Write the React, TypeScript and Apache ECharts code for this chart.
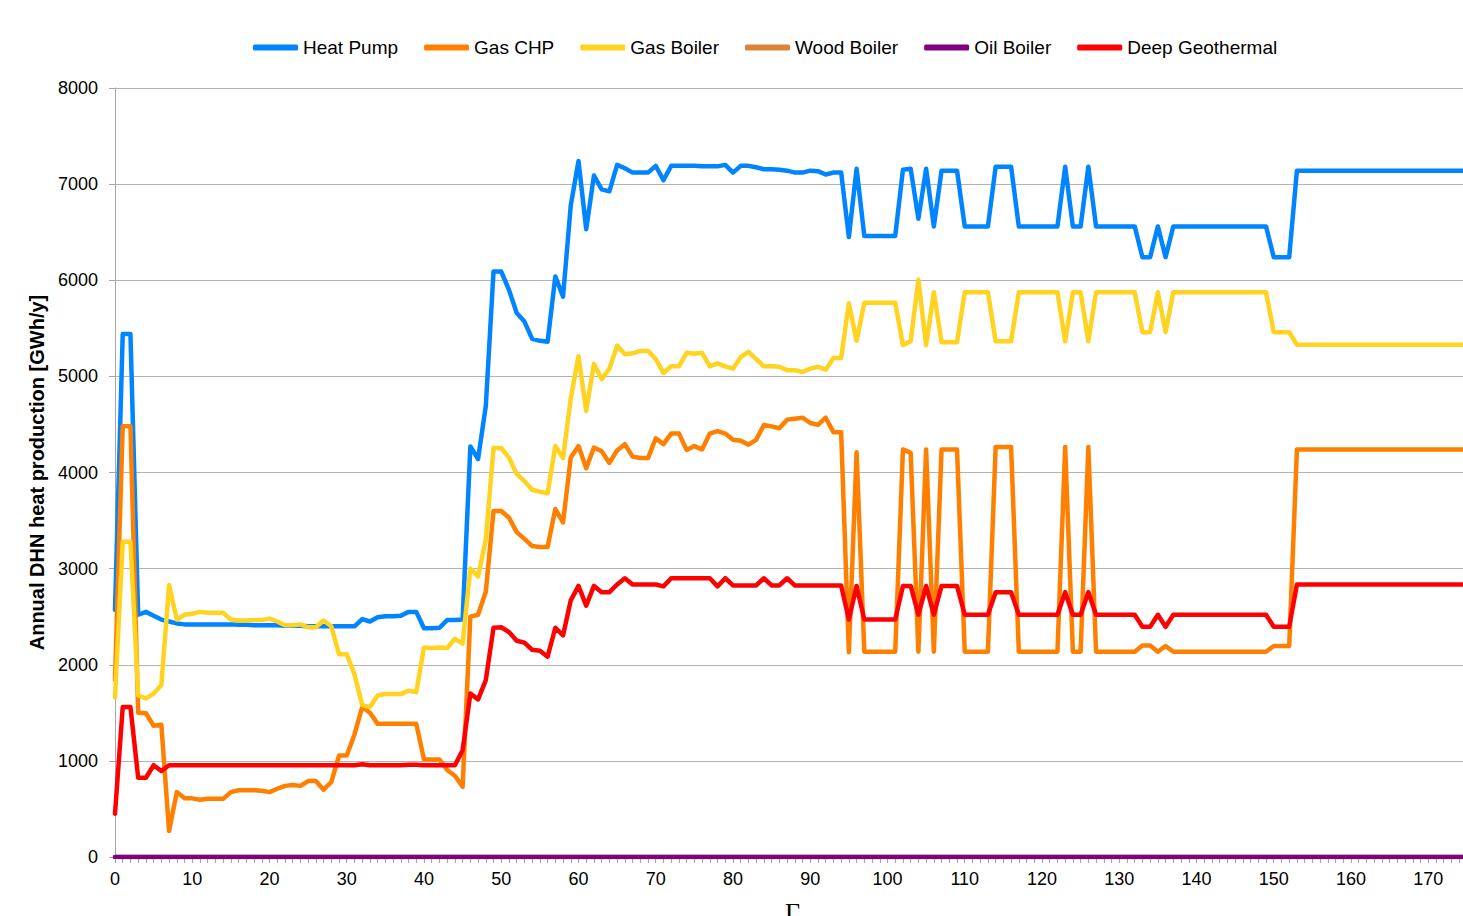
import React, { useEffect, useRef } from "react";
import * as echarts from "echarts";

const seriesNames = ["Heat Pump", "Gas CHP", "Gas Boiler", "Wood Boiler", "Oil Boiler", "Deep Geothermal"];
const seriesColors = ["#0084ff", "#ff8000", "#ffd320", "#d9843a", "#800080", "#ff0000"];

const xTickLabels = [0, 10, 20, 30, 40, 50, 60, 70, 80, 90, 100, 110, 120, 130, 140, 150, 160, 170];
const yTickLabels = [0, 1000, 2000, 3000, 4000, 5000, 6000, 7000, 8000];

const heatPump = [
  2570, 5440, 5440, 2520, 2550, 2510, 2470, 2450, 2430, 2420,
  2420, 2420, 2420, 2420, 2420, 2420, 2415, 2415, 2410, 2410,
  2410, 2410, 2405, 2405, 2405, 2400, 2400, 2400, 2400, 2400,
  2400, 2400, 2475, 2450, 2495, 2505, 2505, 2510, 2550, 2550,
  2380, 2380, 2385, 2465, 2465, 2470, 4270, 4140, 4690, 6090,
  6090, 5900, 5660, 5570, 5390, 5370, 5360, 6040, 5830, 6780,
  7240, 6530, 7090, 6945, 6925, 7200, 7165, 7120, 7120, 7120,
  7190, 7040, 7190, 7190, 7190, 7190, 7185, 7185, 7185, 7200,
  7120, 7190, 7190, 7175, 7155, 7155, 7150, 7140, 7120, 7120,
  7140, 7135, 7100, 7120, 7120, 6450, 7160, 6460, 6460, 6460,
  6460, 6460, 7150, 7160, 6640, 7160, 6560, 7140, 7140, 7140,
  6560, 6560, 6560, 6560, 7180, 7180, 7180, 6560, 6560, 6560,
  6560, 6560, 6560, 7180, 6560, 6560, 7180, 6560, 6560, 6560,
  6560, 6560, 6560, 6240, 6240, 6560, 6240, 6560, 6560, 6560,
  6560, 6560, 6560, 6560, 6560, 6560, 6560, 6560, 6560, 6560,
  6240, 6240, 6240, 7140, 7140, 7140, 7140, 7140, 7140, 7140,
  7140, 7140, 7140, 7140, 7140, 7140, 7140, 7140, 7140, 7140,
  7140, 7140, 7140, 7140, 7140, 7140,
];

const gasChp = [
  1840, 4480, 4480, 1500, 1495, 1365, 1375, 270, 675, 610,
  610, 595, 605, 605, 605, 675, 695, 695, 695, 690,
  675, 710, 740, 750, 740, 790, 790, 700, 780, 1055,
  1055, 1275, 1560, 1500, 1385, 1385, 1385, 1385, 1385, 1385,
  1015, 1015, 1015, 905, 845, 730, 2500, 2520, 2760, 3600,
  3600, 3530, 3380, 3310, 3235, 3225, 3225, 3620, 3480, 4155,
  4275, 4045, 4260, 4220, 4100, 4230, 4295, 4165, 4150, 4150,
  4355, 4295, 4405, 4405, 4235, 4275, 4240, 4405, 4430, 4405,
  4340, 4330, 4290, 4340, 4495, 4480, 4460, 4550, 4560, 4570,
  4515, 4495, 4570, 4420, 4420, 2130, 4210, 2135, 2135, 2135,
  2135, 2135, 4240, 4205, 2135, 4240, 2135, 4240, 4240, 4240,
  2135, 2135, 2135, 2135, 4265, 4265, 4265, 2135, 2135, 2135,
  2135, 2135, 2135, 4265, 2135, 2135, 4265, 2135, 2135, 2135,
  2135, 2135, 2135, 2200, 2200, 2135, 2195, 2135, 2135, 2135,
  2135, 2135, 2135, 2135, 2135, 2135, 2135, 2135, 2135, 2135,
  2195, 2195, 2195, 4240, 4240, 4240, 4240, 4240, 4240, 4240,
  4240, 4240, 4240, 4240, 4240, 4240, 4240, 4240, 4240, 4240,
  4240, 4240, 4240, 4240, 4240, 4240,
];

const gasBoiler = [
  1660, 3280, 3280, 1680, 1650, 1700, 1790, 2830, 2470, 2520,
  2530, 2550, 2540, 2540, 2540, 2470, 2460, 2460, 2465, 2465,
  2480, 2450, 2410, 2410, 2420, 2390, 2390, 2460, 2400, 2110,
  2110, 1900, 1580, 1560, 1680, 1695, 1695, 1695, 1730, 1715,
  2180, 2175, 2180, 2175, 2270, 2220, 3000, 2920, 3300, 4255,
  4255, 4155, 3985, 3910, 3820, 3800, 3785, 4275, 4150, 4770,
  5210, 4640, 5130, 4970, 5080, 5320, 5230, 5240, 5265, 5265,
  5180, 5035, 5105, 5105, 5245, 5235, 5245, 5105, 5135, 5105,
  5080, 5200, 5255, 5180, 5105, 5105, 5100, 5065, 5065, 5045,
  5080, 5100, 5070, 5190, 5190, 5760, 5370, 5765, 5765, 5765,
  5765, 5765, 5325, 5365, 6005, 5325, 5875, 5355, 5355, 5355,
  5875, 5875, 5875, 5875, 5365, 5365, 5365, 5875, 5875, 5875,
  5875, 5875, 5875, 5365, 5875, 5875, 5365, 5875, 5875, 5875,
  5875, 5875, 5875, 5460, 5460, 5875, 5460, 5875, 5875, 5875,
  5875, 5875, 5875, 5875, 5875, 5875, 5875, 5875, 5875, 5875,
  5460, 5460, 5460, 5330, 5330, 5330, 5330, 5330, 5330, 5330,
  5330, 5330, 5330, 5330, 5330, 5330, 5330, 5330, 5330, 5330,
  5330, 5330, 5330, 5330, 5330, 5330,
];

const woodBoiler = [
  0, 0, 0, 0, 0, 0, 0, 0, 0, 0, 0, 0, 0, 0, 0, 0, 0, 0, 0, 0,
  0, 0, 0, 0, 0, 0, 0, 0, 0, 0, 0, 0, 0, 0, 0, 0, 0, 0, 0, 0,
  0, 0, 0, 0, 0, 0, 0, 0, 0, 0, 0, 0, 0, 0, 0, 0, 0, 0, 0, 0,
  0, 0, 0, 0, 0, 0, 0, 0, 0, 0, 0, 0, 0, 0, 0, 0, 0, 0, 0, 0,
  0, 0, 0, 0, 0, 0, 0, 0, 0, 0, 0, 0, 0, 0, 0, 0, 0, 0, 0, 0,
  0, 0, 0, 0, 0, 0, 0, 0, 0, 0, 0, 0, 0, 0, 0, 0, 0, 0, 0, 0,
  0, 0, 0, 0, 0, 0, 0, 0, 0, 0, 0, 0, 0, 0, 0, 0, 0, 0, 0, 0,
  0, 0, 0, 0, 0, 0, 0, 0, 0, 0, 0, 0, 0, 0, 0, 0, 0, 0, 0, 0,
  0, 0, 0, 0, 0, 0, 0, 0, 0, 0, 0, 0, 0, 0, 0, 0,
];

const oilBoiler = [
  0, 0, 0, 0, 0, 0, 0, 0, 0, 0, 0, 0, 0, 0, 0, 0, 0, 0, 0, 0,
  0, 0, 0, 0, 0, 0, 0, 0, 0, 0, 0, 0, 0, 0, 0, 0, 0, 0, 0, 0,
  0, 0, 0, 0, 0, 0, 0, 0, 0, 0, 0, 0, 0, 0, 0, 0, 0, 0, 0, 0,
  0, 0, 0, 0, 0, 0, 0, 0, 0, 0, 0, 0, 0, 0, 0, 0, 0, 0, 0, 0,
  0, 0, 0, 0, 0, 0, 0, 0, 0, 0, 0, 0, 0, 0, 0, 0, 0, 0, 0, 0,
  0, 0, 0, 0, 0, 0, 0, 0, 0, 0, 0, 0, 0, 0, 0, 0, 0, 0, 0, 0,
  0, 0, 0, 0, 0, 0, 0, 0, 0, 0, 0, 0, 0, 0, 0, 0, 0, 0, 0, 0,
  0, 0, 0, 0, 0, 0, 0, 0, 0, 0, 0, 0, 0, 0, 0, 0, 0, 0, 0, 0,
  0, 0, 0, 0, 0, 0, 0, 0, 0, 0, 0, 0, 0, 0, 0, 0,
];

const deepGeothermal = [
  450, 1560, 1560, 825, 825, 955, 895, 955, 955, 955,
  955, 955, 955, 955, 955, 955, 955, 955, 955, 955,
  955, 955, 955, 955, 955, 955, 955, 955, 955, 955,
  955, 955, 965, 955, 955, 955, 955, 955, 960, 960,
  955, 955, 955, 955, 955, 1110, 1700, 1640, 1840, 2385,
  2390, 2340, 2250, 2230, 2155, 2145, 2085, 2385, 2305, 2670,
  2820, 2615, 2820, 2755, 2755, 2835, 2900, 2835, 2835, 2835,
  2835, 2815, 2900, 2900, 2900, 2900, 2900, 2900, 2815, 2900,
  2825, 2825, 2825, 2825, 2900, 2825, 2825, 2900, 2825, 2825,
  2825, 2825, 2825, 2825, 2825, 2470, 2820, 2470, 2470, 2470,
  2470, 2470, 2820, 2820, 2520, 2820, 2520, 2820, 2820, 2820,
  2520, 2520, 2520, 2520, 2755, 2755, 2755, 2520, 2520, 2520,
  2520, 2520, 2520, 2755, 2520, 2520, 2755, 2520, 2520, 2520,
  2520, 2520, 2520, 2395, 2395, 2520, 2395, 2520, 2520, 2520,
  2520, 2520, 2520, 2520, 2520, 2520, 2520, 2520, 2520, 2520,
  2395, 2395, 2395, 2835, 2835, 2835, 2835, 2835, 2835, 2835,
  2835, 2835, 2835, 2835, 2835, 2835, 2835, 2835, 2835, 2835,
  2835, 2835, 2835, 2835, 2835, 2835,
];

const allSeries = [heatPump, gasChp, gasBoiler, woodBoiler, oilBoiler, deepGeothermal];

const FONT = "'Liberation Sans', Arial, sans-serif";

export default function App() {
  const ref = useRef<HTMLDivElement>(null);

  useEffect(() => {
    if (!ref.current) return;
    const chart = echarts.init(ref.current, null, { renderer: "svg" });
    const option: any = {
      animation: false,
      backgroundColor: "#ffffff",
      textStyle: { fontFamily: FONT },
      legend: {
        left: 248,
        top: 33,
        itemWidth: 45,
        itemHeight: 6,
        itemGap: 26,
        icon: "roundRect",
        textStyle: { fontFamily: FONT, fontSize: 19, color: "#000" },
        data: seriesNames,
      },
      grid: { left: 115, right: 0, top: 88, bottom: 59, containLabel: false },
      xAxis: {
        type: "value",
        min: 0,
        max: 174.5,
        interval: 10,
        axisLine: { show: true, lineStyle: { color: "#a6a6a6", width: 1 } },
        axisTick: { show: true, length: 6, lineStyle: { color: "#a6a6a6" } },
        minorTick: { show: true, splitNumber: 10, length: 6, lineStyle: { color: "#a6a6a6" } },
        splitLine: { show: false },
        axisLabel: {
          fontFamily: FONT,
          fontSize: 18,
          color: "#000",
          margin: 13,
          showMaxLabel: false,
          formatter: (v: number) => (xTickLabels.indexOf(v) >= 0 ? String(v) : ""),
        },
      },
      yAxis: {
        type: "value",
        min: 0,
        max: 8000,
        interval: 1000,
        name: "Annual DHN heat production [GWh/y]",
        nameLocation: "middle",
        nameRotate: 90,
        nameGap: 68,
        nameTextStyle: { fontFamily: FONT, fontSize: 20, fontWeight: "bold", color: "#000" },
        axisLine: { show: true, lineStyle: { color: "#a6a6a6", width: 1 } },
        axisTick: { show: true, length: 6, lineStyle: { color: "#a6a6a6" } },
        splitLine: { show: true, lineStyle: { color: "#b3b3b3", width: 1 } },
        axisLabel: {
          fontFamily: FONT,
          fontSize: 18,
          color: "#000",
          margin: 17,
          formatter: (v: number) => (yTickLabels.indexOf(v) >= 0 ? String(v) : ""),
        },
      },
      series: allSeries.map((vals, k) => ({
        name: seriesNames[k],
        type: "line",
        showSymbol: false,
        symbol: "none",
        color: seriesColors[k],
        lineStyle: { color: seriesColors[k], width: 4.5, cap: "round", join: "round" },
        data: vals.map((v, i) => [i, v]),
        clip: true,
      })),
      graphic: [
        {
          type: "text",
          left: 785,
          top: 899,
          style: {
            text: "Γ₀",
            fontFamily: "'Liberation Serif', 'DejaVu Serif', serif",
            fontSize: 26,
            fill: "#000",
          },
        },
      ],
    };
    chart.setOption(option);
    return () => chart.dispose();
  }, []);

  return (
    <div
      ref={ref}
      style={{ position: "absolute", left: 0, top: 0, width: 1463, height: 916, background: "#fff" }}
    />
  );
}
